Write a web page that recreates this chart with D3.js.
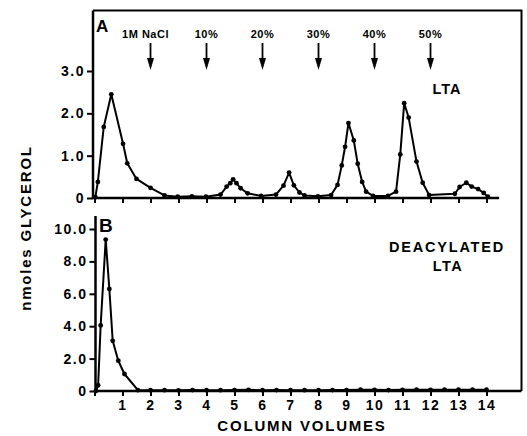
<!DOCTYPE html>
<html>
<head>
<meta charset="utf-8">
<script src="https://cdn.jsdelivr.net/npm/d3@7"></script>
<style>
    body { margin: 0; background: #fff; }
    svg { display: block; }
    text { font-family: "Liberation Sans", Arial, sans-serif; font-weight: bold; fill: #000; }
</style>
</head>
<body>
<div id="chart"></div>
<script>
// column volume / nmoles glycerol
const ltaX = [0.03, 0.12, 0.33, 0.6, 1.02, 1.17, 1.5, 2.0, 2.5, 2.97, 3.48, 3.98, 4.5, 4.72, 4.85, 4.95, 5.07, 5.22, 5.47, 5.95,
    6.48, 6.75, 6.95, 7.12, 7.32, 7.5, 7.98, 8.45, 8.68, 8.83, 8.95, 9.07, 9.26, 9.4, 9.56, 9.7, 9.95, 10.48, 10.77, 10.92,
    11.06, 11.22, 11.5, 11.72, 11.95, 12.87, 13.04, 13.28, 13.47, 13.7, 13.9, 14.05];
const ltaY = [0.02, 0.38, 1.68, 2.45, 1.28, 0.82, 0.45, 0.24, 0.06, 0.03, 0.04, 0.03, 0.08, 0.27, 0.35, 0.44, 0.35, 0.23, 0.11, 0.05,
    0.08, 0.29, 0.6, 0.3, 0.13, 0.06, 0.04, 0.07, 0.31, 0.77, 1.21, 1.77, 1.36, 0.81, 0.38, 0.15, 0.05, 0.05, 0.15, 1.03,
    2.24, 1.9, 0.86, 0.36, 0.07, 0.1, 0.26, 0.36, 0.27, 0.21, 0.12, 0.03];

const deacX = [0.05, 0.13, 0.22, 0.4, 0.53, 0.65, 0.85, 1.07, 1.55, 2.0, 2.5, 3.0, 3.5, 4.0, 4.5, 5.0, 5.5, 6.0, 6.5, 7.0,
    7.5, 8.0, 8.5, 9.0, 9.5, 10.0, 10.5, 11.0, 11.5, 12.0, 12.5, 13.0, 13.5, 14.0];
const deacY = [0.0, 0.35, 4.05, 9.35, 6.3, 3.1, 1.87, 1.05, 0.05, 0.05, 0.05, 0.04, 0.06, 0.05, 0.05, 0.06, 0.07, 0.05, 0.06, 0.05,
    0.05, 0.05, 0.06, 0.06, 0.08, 0.07, 0.06, 0.07, 0.08, 0.07, 0.08, 0.08, 0.08, 0.08];

const xTicks = [0, 1, 2, 3, 4, 5, 6, 7, 8, 9, 10, 11, 12, 13, 14];
const yTicksA = [0, 1, 2, 3];
const yTicksB = [0, 2, 4, 6, 8, 10];
const arrowAt = [2, 4, 6, 8, 10, 12];
const arrowLabels = ["1M NaCl", "10%", "20%", "30%", "40%", "50%"];

const width = 527;
const height = 436;

const svg = d3.select('#chart').append('svg')
    .attr('width', width)
    .attr('height', height);

const x = d3.scaleLinear().domain([0, 14]).range([94.5, 486.5]);
const yA = d3.scaleLinear().domain([0, 3]).range([198, 71]);
const yB = d3.scaleLinear().domain([0, 10]).range([391, 229]);

const frameTop = 10.5;
const frameRight = 521.5;
const axisLeftA = 93;
const axisLeftB = 95.5;
const topB = 216;

// frame: top and right border
svg.append('path')
    .attr('d', `M${axisLeftA},${frameTop}H${frameRight}V${yB(0)}`)
    .attr('fill', 'none')
    .attr('stroke', '#000')
    .attr('stroke-width', 2);

function styleAxis(g, size) {
    g.select('.domain').remove();
    g.selectAll('.tick line').attr('stroke', '#000').attr('stroke-width', 2);
    g.selectAll('.tick text')
        .attr('fill', '#000')
        .style('font-family', '"Liberation Sans", Arial, sans-serif')
        .style('font-weight', 'bold')
        .style('font-size', size + 'px')
        .style('letter-spacing', '1.5px');
}

// panel A axes
svg.append('g')
    .attr('transform', `translate(${axisLeftA},0)`)
    .call(d3.axisLeft(yA).tickValues(yTicksA).tickSize(6).tickPadding(2)
        .tickFormat(d => d === 0 ? '0' : d.toFixed(1)))
    .call(g => styleAxis(g, 14));

svg.append('g')
    .attr('transform', `translate(0,${yA(0)})`)
    .call(d3.axisBottom(x).tickValues(xTicks).tickSize(5).tickFormat(''))
    .call(g => styleAxis(g, 14));

svg.append('line')
    .attr('x1', axisLeftA).attr('x2', axisLeftA)
    .attr('y1', frameTop).attr('y2', yA(0) + 1)
    .attr('stroke', '#000').attr('stroke-width', 2.5);
svg.append('line')
    .attr('x1', axisLeftA).attr('x2', x(14.45))
    .attr('y1', yA(0)).attr('y2', yA(0))
    .attr('stroke', '#000').attr('stroke-width', 2.5);

// panel B axes
svg.append('g')
    .attr('transform', `translate(${axisLeftB},0)`)
    .call(d3.axisLeft(yB).tickValues(yTicksB).tickSize(6).tickPadding(2)
        .tickFormat(d => d === 0 ? '0' : d.toFixed(1)))
    .call(g => styleAxis(g, 14));

svg.append('g')
    .attr('transform', `translate(0,${yB(0)})`)
    .call(d3.axisBottom(x).tickValues(xTicks).tickSize(5).tickPadding(4)
        .tickFormat(d => d === 0 ? '' : d))
    .call(g => styleAxis(g, 14));

svg.append('line')
    .attr('x1', axisLeftB).attr('x2', axisLeftB)
    .attr('y1', topB).attr('y2', yB(0) + 1)
    .attr('stroke', '#000').attr('stroke-width', 2.5);
svg.append('line')
    .attr('x1', axisLeftB).attr('x2', frameRight)
    .attr('y1', yB(0)).attr('y2', yB(0))
    .attr('stroke', '#000').attr('stroke-width', 2.5);

// data lines + markers
function drawSeries(xs, ys, yScale) {
    const pts = xs.map((d, i) => [d, ys[i]]);
    svg.append('path')
        .datum(pts)
        .attr('fill', 'none')
        .attr('stroke', '#000')
        .attr('stroke-width', 2)
        .attr('stroke-linejoin', 'round')
        .attr('d', d3.line().x(d => x(d[0])).y(d => yScale(d[1])));
    svg.append('g').selectAll('circle')
        .data(pts)
        .enter().append('circle')
        .attr('cx', d => x(d[0]))
        .attr('cy', d => yScale(d[1]))
        .attr('r', 2.4)
        .attr('fill', '#000');
}
drawSeries(ltaX, ltaY, yA);
drawSeries(deacX, deacY, yB);

// step arrows in panel A
const arrows = svg.append('g').selectAll('g')
    .data(arrowAt)
    .enter().append('g')
    .attr('transform', d => `translate(${x(d)},0)`);
arrows.append('text')
    .attr('y', 38)
    .attr('text-anchor', 'middle')
    .style('font-size', '11px')
    .style('letter-spacing', '0.5px')
    .attr('dx', (d, i) => i === 0 ? -5 : 0)
    .text((d, i) => arrowLabels[i]);
arrows.append('line')
    .attr('y1', 43).attr('y2', 62)
    .attr('stroke', '#000').attr('stroke-width', 1.8);
arrows.append('path')
    .attr('d', 'M-3.5,58L3.5,58L0,70Z')
    .attr('fill', '#000');

// panel labels
svg.append('text').attr('x', 96).attr('y', 32).style('font-size', '17px').text('A');
svg.append('text').attr('x', 99).attr('y', 232).style('font-size', '19px').text('B');

svg.append('text').attr('x', 447).attr('y', 94).attr('text-anchor', 'middle')
    .style('font-size', '14.5px').style('letter-spacing', '1px').text('LTA');
svg.append('text').attr('x', 447).attr('y', 252).attr('text-anchor', 'middle')
    .style('font-size', '14.5px').style('letter-spacing', '1.8px').text('DEACYLATED');
svg.append('text').attr('x', 448).attr('y', 271).attr('text-anchor', 'middle')
    .style('font-size', '14.5px').style('letter-spacing', '1.5px').text('LTA');

// axis titles
svg.append('text')
    .attr('transform', 'translate(31,228) rotate(-90)')
    .attr('text-anchor', 'middle')
    .style('font-size', '15px')
    .style('letter-spacing', '1.8px')
    .text('nmoles GLYCEROL');

svg.append('text')
    .attr('x', 302)
    .attr('y', 431)
    .attr('text-anchor', 'middle')
    .style('font-size', '15px')
    .style('letter-spacing', '1.8px')
    .text('COLUMN VOLUMES');
</script>
</body>
</html>
